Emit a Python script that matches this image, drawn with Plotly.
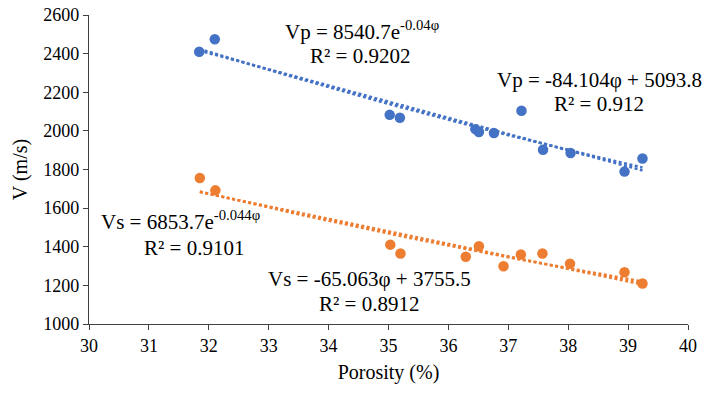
import numpy as np
import plotly.graph_objects as go

# ---- data ----
porosity_p = [31.84, 32.10, 35.02, 35.19, 36.45, 36.51, 36.76, 37.22, 37.58, 38.04, 38.94, 39.24]
vp = [2410, 2474, 2083, 2068, 2009, 1994, 1989, 2104, 1902, 1885, 1789, 1857]

porosity_s = [31.85, 32.11, 35.03, 35.20, 36.29, 36.51, 36.92, 37.21, 37.57, 38.03, 38.94, 39.24]
vs = [1756, 1692, 1411, 1365, 1348, 1403, 1299, 1360, 1365, 1312, 1268, 1210]

x_ticks = list(range(30, 41))
y_ticks = list(range(1000, 2601, 200))

labels_vp = ["Vp = 8540.7e<sup>-0.04φ</sup>", "R² = 0.9202",
             "Vp = -84.104φ + 5093.8", "R² = 0.912"]
labels_vs = ["Vs = 6853.7e<sup>-0.044φ</sup>", "R² = 0.9101",
             "Vs = -65.063φ + 3755.5", "R² = 0.8912"]

BLUE = "#4472C4"
ORANGE = "#ED7D31"
FONT = "Times New Roman, Liberation Serif, serif"
AXC = "#404040"


def fits(x, y):
    x = np.asarray(x, float)
    y = np.asarray(y, float)
    xs = np.linspace(x.min(), x.max(), 60)
    a, b = np.polyfit(x, y, 1)
    lin = a * xs + b
    k, c = np.polyfit(x, np.log(y), 1)
    exp = np.exp(c) * np.exp(k * xs)
    return xs, lin, exp


fig = go.Figure()

for x, y, col in [(porosity_p, vp, BLUE), (porosity_s, vs, ORANGE)]:
    fig.add_trace(go.Scatter(x=x, y=y, mode="markers",
                             marker=dict(color=col, size=10.5), showlegend=False))

for x, y, col in [(porosity_p, vp, BLUE), (porosity_s, vs, ORANGE)]:
    xs, lin, exp = fits(x, y)
    for yy in (lin, exp):
        fig.add_trace(go.Scatter(x=xs, y=yy, mode="lines",
                                 line=dict(color=col, width=2.6, dash="3px,2.5px"),
                                 showlegend=False, hoverinfo="skip"))

# label positions (data coordinates)
pos_vp = [(34.55, 2520), (34.52, 2390), (38.52, 2262), (38.51, 2138)]
pos_vs = [(31.53, 1535), (31.76, 1395), (34.68, 1232), (34.68, 1105)]
for txts, poss in [(labels_vp, pos_vp), (labels_vs, pos_vs)]:
    for t, (ax, ay) in zip(txts, poss):
        fig.add_annotation(x=ax, y=ay, xref="x", yref="y", text=t, showarrow=False,
                           xanchor="center", yanchor="middle",
                           font=dict(family=FONT, size=21, color="#000000"))

axis_common = dict(showgrid=False, zeroline=False, showline=True, automargin=False,
                   linecolor=AXC, linewidth=1.3, ticks="outside",
                   ticklen=5, tickwidth=1.3, tickcolor=AXC,
                   tickfont=dict(family=FONT, size=18, color="#000000"))

inner_ticks = dict(showgrid=False, zeroline=False, showline=False, automargin=False,
                   ticks="inside", ticklen=4, tickwidth=1.3, tickcolor=AXC,
                   showticklabels=False)

fig.update_layout(
    template="none",
    width=702, height=393,
    margin=dict(l=88.5, r=14, t=15, b=68.5),
    paper_bgcolor="white", plot_bgcolor="white",
    font=dict(family=FONT, color="#000000", size=18),
    xaxis=dict(range=[30, 40], tickvals=x_ticks, ticktext=[str(v) for v in x_ticks],
               title=dict(text="Porosity (%)", font=dict(family=FONT, size=20, color="#000000"),
                          standoff=10),
               **axis_common),
    yaxis=dict(range=[1000, 2600], tickvals=y_ticks, ticktext=[str(v) for v in y_ticks],
               title=dict(text="V (m/s)", font=dict(family=FONT, size=20, color="#000000"),
                          standoff=10),
               **axis_common),
    xaxis2=dict(overlaying="x", matches="x", range=[30, 40], tickvals=x_ticks,
                anchor="y", side="bottom", **inner_ticks),
    yaxis2=dict(overlaying="y", matches="y", range=[1000, 2600], tickvals=y_ticks,
                anchor="x", side="left", **inner_ticks),
)

fig.write_html("out.html")
